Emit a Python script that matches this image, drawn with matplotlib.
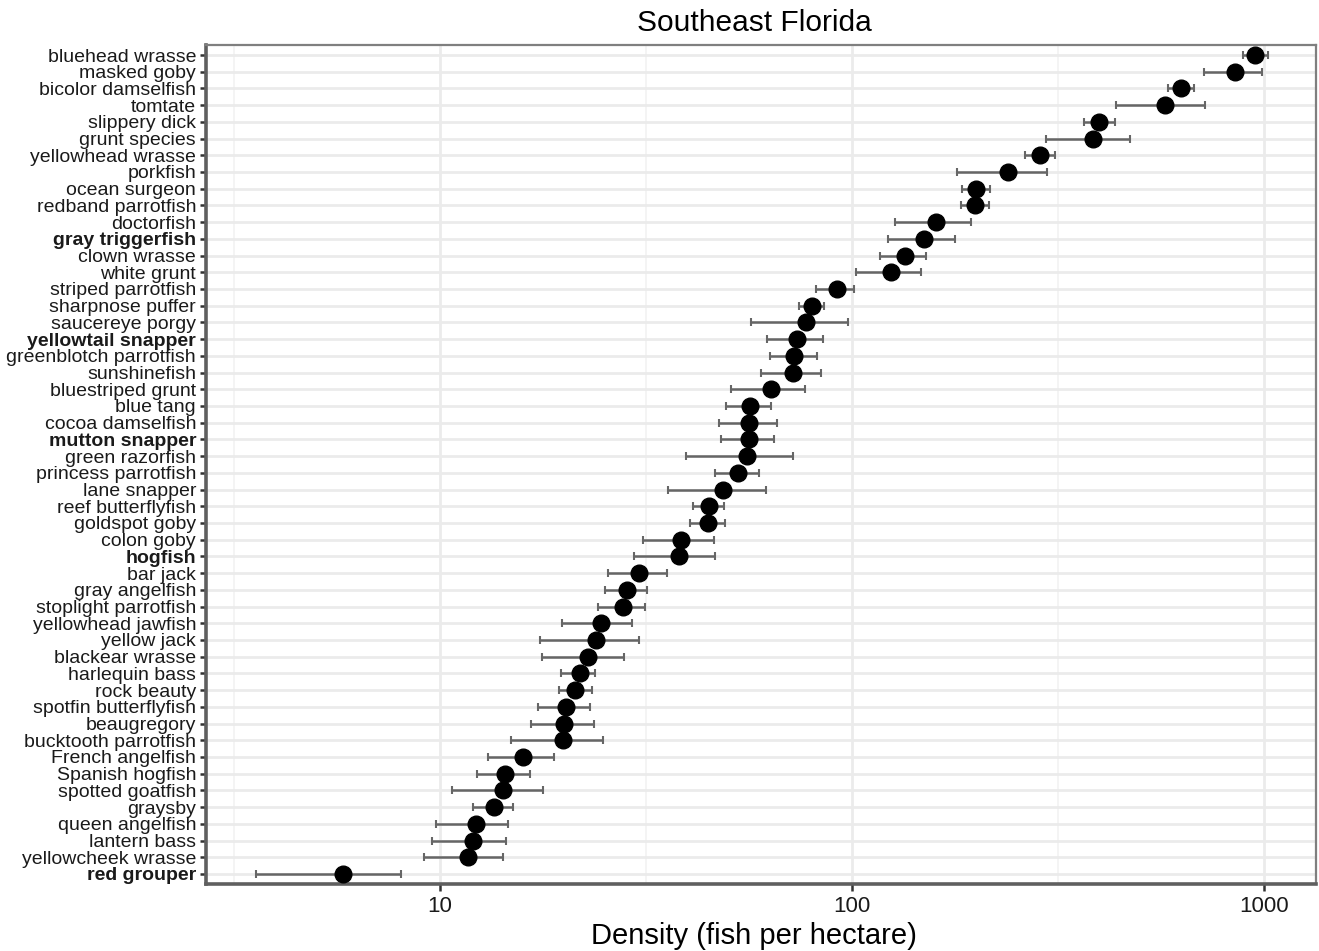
import matplotlib
matplotlib.use("Agg")
import matplotlib.pyplot as plt
import numpy as np

plt.rcParams['font.family'] = ['Liberation Sans', 'DejaVu Sans']

# species, top to bottom
species = [
    "bluehead wrasse", "masked goby", "bicolor damselfish", "tomtate", "slippery dick",
    "grunt species", "yellowhead wrasse", "porkfish", "ocean surgeon", "redband parrotfish",
    "doctorfish", "gray triggerfish", "clown wrasse", "white grunt", "striped parrotfish",
    "sharpnose puffer", "saucereye porgy", "yellowtail snapper", "greenblotch parrotfish",
    "sunshinefish", "bluestriped grunt", "blue tang", "cocoa damselfish", "mutton snapper",
    "green razorfish", "princess parrotfish", "lane snapper", "reef butterflyfish",
    "goldspot goby", "colon goby", "hogfish", "bar jack", "gray angelfish",
    "stoplight parrotfish", "yellowhead jawfish", "yellow jack", "blackear wrasse",
    "harlequin bass", "rock beauty", "spotfin butterflyfish", "beaugregory",
    "bucktooth parrotfish", "French angelfish", "Spanish hogfish", "spotted goatfish",
    "graysby", "queen angelfish", "lantern bass", "yellowcheek wrasse", "red grouper",
]
bold_species = ["gray triggerfish", "yellowtail snapper", "mutton snapper", "hogfish", "red grouper"]

density = [
    951, 848, 629, 575, 398, 384, 286, 239, 200, 199,
    160, 149, 134, 124, 91.6, 79.9, 77.1, 73.4, 72.4, 71.9,
    63.6, 56.4, 56.3, 56.1, 55.6, 52.9, 48.6, 44.9, 44.7, 38.5,
    37.9, 30.4, 28.4, 27.8, 24.5, 23.9, 22.8, 21.8, 21.3, 20.2,
    20.0, 19.9, 15.9, 14.4, 14.2, 13.5, 12.2, 12.0, 11.66, 5.81,
]
lower = [
    887, 714, 583, 436, 364, 296, 263, 180, 185, 184,
    127, 122, 117, 102, 81.8, 74.1, 56.8, 62.1, 63.0, 60.1,
    50.9, 49.5, 47.4, 48.1, 39.5, 46.4, 35.7, 41.1, 40.4, 31.0,
    29.6, 25.5, 25.1, 24.2, 19.8, 17.5, 17.7, 19.6, 19.4, 17.3,
    16.6, 14.9, 13.1, 12.3, 10.7, 12.05, 9.77, 9.57, 9.13, 3.58,
]
upper = [
    1020, 985, 675, 716, 434, 471, 310, 297, 216, 215,
    194, 178, 151, 147, 101, 85.3, 97.6, 84.8, 82.0, 83.8,
    76.6, 63.6, 65.6, 64.5, 72.0, 59.4, 61.8, 48.8, 49.1, 46.1,
    46.4, 35.5, 31.7, 31.4, 29.2, 30.4, 28.0, 23.8, 23.3, 23.1,
    23.6, 24.9, 18.9, 16.5, 17.8, 15.0, 14.6, 14.45, 14.2, 8.02,
]

density = np.array(density)
xerr = np.vstack([density - np.array(lower), np.array(upper) - density])
ypos = np.arange(len(species))

fig = plt.figure(figsize=(13.19, 9.51), dpi=100)
ax = fig.add_axes([0.156, 0.0705, 0.8417, 0.8822])

ax.errorbar(density, ypos, xerr=xerr, fmt='none', ecolor='#666666',
            elinewidth=1.8, capsize=3, capthick=1.5, zorder=3)
ax.plot(density, ypos, 'o', color='black', markersize=12, zorder=4)

ax.set_xscale('log')
ax.set_xlim(2.70, 1334)
ax.set_ylim(len(species) - 0.4, -0.6)

ax.set_xticks([10, 100, 1000])
ax.set_xticklabels(["10", "100", "1000"])
ax.set_xticks([10 ** 0.5, 10 ** 1.5, 10 ** 2.5], minor=True)
ax.xaxis.set_minor_formatter(plt.NullFormatter())
ax.set_yticks(ypos)
ax.set_yticklabels(species)
for lab in ax.get_yticklabels():
    if lab.get_text() in bold_species:
        lab.set_fontweight('bold')

ax.grid(True, which='major', axis='both', color='#ebebeb', linewidth=2.0, zorder=0)
ax.grid(True, which='minor', axis='x', color='#f2f2f2', linewidth=1.2, zorder=0)
ax.set_axisbelow(True)

ax.tick_params(axis='y', which='major', length=4, width=1.8, color='#333333',
               labelsize=14, pad=3, labelcolor='#1a1a1a')
ax.tick_params(axis='x', which='major', length=5, width=1.8, color='#333333',
               labelsize=16, pad=4, labelcolor='#1a1a1a')
ax.tick_params(axis='x', which='minor', length=0)

for side in ['top', 'right']:
    ax.spines[side].set_color('#7f7f7f')
    ax.spines[side].set_linewidth(1.6)
for side in ['left', 'bottom']:
    ax.spines[side].set_color('#5f5f5f')
    ax.spines[side].set_linewidth(2.6)

ax.set_title("Southeast Florida", fontsize=21.5, pad=10, x=0.494)
ax.set_xlabel("Density (fish per hectare)", fontsize=21, labelpad=2)
ax.xaxis.set_label_coords(0.494, -0.045)

fig.savefig("out.png", dpi=100, facecolor='white')
